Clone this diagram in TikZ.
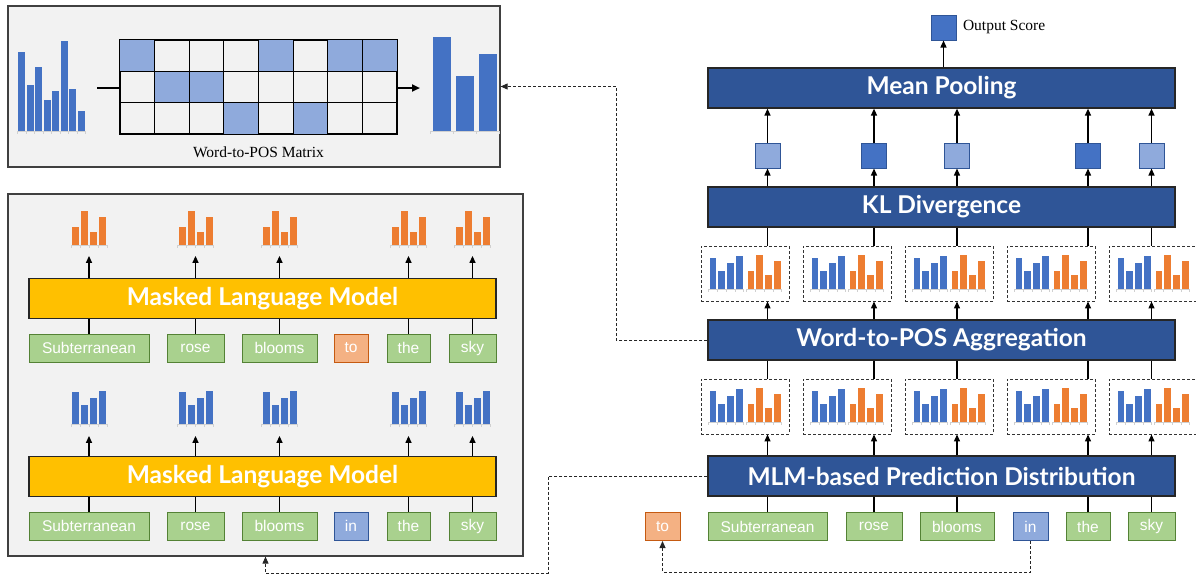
\documentclass[tikz,border=0pt]{standalone}
\usepackage{fontspec}
\setmainfont{Liberation Serif}
\newfontfamily\barfont{Lato}
\newfontfamily\wordfont{Liberation Sans}
\usetikzlibrary{arrows.meta,calc}

\definecolor{panelbg}{HTML}{F2F2F2}
\definecolor{panelbd}{HTML}{404040}
\definecolor{darkblue}{HTML}{2F5597}
\definecolor{midblue}{HTML}{4472C4}
\definecolor{lightblue}{HTML}{8FAADC}
\definecolor{gold}{HTML}{FFC000}
\definecolor{greenfill}{HTML}{A9D18E}
\definecolor{greenbd}{HTML}{548235}
\definecolor{orangefill}{HTML}{F4B183}
\definecolor{orangebd}{HTML}{C55A11}
\definecolor{historange}{HTML}{ED7D31}
\definecolor{tickgray}{HTML}{D0D0D0}

\newcommand{\histo}[6]{% xleft, baseline, color, pitch, barwidth, heights
  \foreach \hh [count=\ii] in {#6} {
    \fill[#3] ({#1+(\ii-1)*#4}, #2) rectangle ++(#5, -\hh);
    \draw[tickgray, line width=0.6pt] ({#1+(\ii-1)*#4-0.5*(#4-#5)}, #2) -- ++(#4,0);
    \draw[tickgray, line width=0.6pt] ({#1+(\ii-1)*#4-0.5*(#4-#5)}, #2) -- ++(0,3);
    \draw[tickgray, line width=0.6pt] ({#1+\ii*#4-0.5*(#4-#5)}, #2) -- ++(0,3);
  }%
}

\tikzset{
  panel/.style={draw=panelbd, fill=panelbg, line width=1.2pt, inner sep=0},
  bluebar/.style={draw=black!85, fill=darkblue, line width=1.2pt, minimum width=467pt,
    minimum height=40pt, text=white, font=\barfont\bfseries\fontsize{24.5}{28}\selectfont, inner sep=0},
  goldbar/.style={bluebar, fill=gold},
  word/.style={draw=greenbd, fill=greenfill, line width=1pt, minimum height=28pt, inner sep=0,
    text=white, font=\wordfont\fontsize{15.5}{18}\selectfont},
  wordorange/.style={word, draw=orangebd, fill=orangefill},
  wordblue/.style={word, draw=darkblue, fill=lightblue},
  conn/.style={line width=1.3pt},
  arr/.style={conn, -{Triangle[length=7pt,width=6pt]}},
  dashconn/.style={line width=0.9pt, dash pattern=on 3pt off 2pt, draw=black!85},
  dasharr/.style={dashconn, -{Triangle[length=7pt,width=6pt]}},
  distbox/.style={draw=black!80, line width=0.9pt, dash pattern=on 3pt off 2pt,
    minimum width=88pt, minimum height=55pt, inner sep=0},
  score/.style={minimum size=25pt, inner sep=0, line width=1pt, draw=darkblue},
  serif/.style={font=\fontsize{15.5}{18}\selectfont},
}

\begin{document}
\begin{tikzpicture}[x=1pt,y=-1pt]
\useasboundingbox (0,0) rectangle (1196,574);

% ---------------- Box 1: Word-to-POS matrix ----------------
\node[panel, minimum width=492pt, minimum height=161pt] (box1) at (254,86.5) {};
\histo{18.3}{131}{midblue}{8.5}{7}{79,46,64,31,40,90,42,20}
\histo{433}{131}{midblue}{23}{18}{94,55,77}
\node[draw=black, line width=1.2pt, minimum width=277pt, minimum height=94pt, inner sep=0] (mat) at (258.5,87) {};
\foreach \r/\c in {1/1,1/5,1/7,1/8,2/2,2/3,3/4,3/6}
  \fill[lightblue] ({120+(\c-1)*34.625}, {40+(\r-1)*31.333}) rectangle ++(34.625,31.333);
\foreach \c in {1,...,7}
  \draw[line width=1.1pt] ({120+\c*34.625},40) -- ++(0,94);
\foreach \r in {1,2}
  \draw[line width=1.1pt] (120,{40+\r*31.333}) -- ++(277,0);
\draw[line width=1.2pt] (mat.south west) rectangle (mat.north east);
\coordinate (ma) at (97,88);
\coordinate (mb) at (420,88);
\draw[line width=2pt] (ma) -- (mat.west |- ma);
\draw[line width=2pt, -{Triangle[length=8pt,width=7pt]}] (mat.east |- mb) -- (mb);
\node[serif] (matlbl) at (258.5,152) {Word-to-POS Matrix};

% ---------------- Box 2: MLM ----------------
\node[panel, minimum width=515pt, minimum height=362pt] (box2) at (265.5,375) {};

% upper MLM
\node[goldbar] (gy1) at (262.5,298.5) {Masked Language Model};
\node[word, minimum width=120pt] (a1) at (89,348) {Subterranean};
\node[word, minimum width=57pt] (a2) at (195.5,348) {rose};
\node[word, minimum width=75pt] (a3) at (279.5,348) {blooms};
\node[wordorange, minimum width=34pt] (a4) at (351,348) {to};
\node[word, minimum width=43pt] (a5) at (408.5,348) {the};
\node[word, minimum width=47pt] (a6) at (472.5,348) {sky};

% lower MLM
\node[goldbar] (gy2) at (262.5,476.5) {Masked Language Model};
\node[word, minimum width=120pt] (b1) at (89,526) {Subterranean};
\node[word, minimum width=57pt] (b2) at (195.5,526) {rose};
\node[word, minimum width=75pt] (b3) at (279.5,526) {blooms};
\node[wordblue, minimum width=34pt] (b4) at (351,526) {in};
\node[word, minimum width=43pt] (b5) at (408.5,526) {the};
\node[word, minimum width=47pt] (b6) at (472.5,526) {sky};

\foreach \w in {1,2,3,5,6} {
  \draw[conn] (a\w.north) -- (a\w.north |- gy1.south);
  \draw[conn] (b\w.north) -- (b\w.north |- gy2.south);
  \coordinate (oh\w) at ($(a\w.north |- gy1.north)+(0,-22)$);
  \coordinate (bh\w) at ($(b\w.north |- gy2.north)+(0,-20)$);
  \draw[arr] (a\w.north |- gy1.north) -- (oh\w);
  \draw[arr] (b\w.north |- gy2.north) -- (bh\w);
}
\foreach \x in {89,195.5,279.5,408.5,472.5} {
  \histo{\x-17}{245}{historange}{9}{7.2}{18,34,13.5,28}
  \histo{\x-17}{424}{midblue}{9}{7.2}{32,19,26,33}
}

% ---------------- Right pipeline ----------------
\node[bluebar] (mp)  at (941.5,88)  {Mean Pooling};
\node[bluebar] (kl)  at (941.5,207) {KL Divergence};
\node[bluebar] (agg) at (941.5,340) {Word-to-POS Aggregation};
\node[bluebar] (mlm) at (941.5,476) {MLM-based Prediction Distribution};

\node[wordorange, minimum width=35pt] (rTo) at (662.5,526.5) {to};
\node[word, minimum width=119pt] (r1) at (767.5,526.5) {Subterranean};
\node[word, minimum width=56pt] (r2) at (874,526.5) {rose};
\node[word, minimum width=74pt] (r3) at (957,526.5) {blooms};
\node[wordblue, minimum width=35pt] (rIn) at (1030.5,526.5) {in};
\node[word, minimum width=44pt] (r4) at (1088,526.5) {the};
\node[word, minimum width=47pt] (r5) at (1151.5,526.5) {sky};

% distribution boxes
\foreach \i/\L in {1/701,2/803,3/905,4/1007,5/1109} {
  \node[distbox] (d\i) at (\L+44,273.5) {};
  \node[distbox] (e\i) at (\L+44,406.5) {};
  \histo{\L+8.7}{289}{midblue}{8.7}{6.7}{31,18,26,33}
  \histo{\L+46.7}{289}{historange}{8.7}{6.7}{18,34,14,28}
  \histo{\L+8.7}{422}{midblue}{8.7}{6.7}{31,18,26,33}
  \histo{\L+46.7}{422}{historange}{8.7}{6.7}{18,34,14,28}
}

% score squares
\node[score, fill=lightblue] (s1) at (767.5,155.5) {};
\node[score, fill=midblue]   (s2) at (874,155.5) {};
\node[score, fill=lightblue] (s3) at (957,155.5) {};
\node[score, fill=midblue]   (s4) at (1088,155.5) {};
\node[score, fill=lightblue] (s5) at (1151.5,155.5) {};
\node[score, fill=midblue] (out) at (943.5,27.5) {};
\node[serif, anchor=west] (outlbl) at ($(out.east)+(3,0)$) {Output Score};
\draw[arr] (mp.north -| out) -- (out.south);

\foreach \i in {1,...,5} {
  \draw[conn] (r\i.north) -- (mlm.south -| r\i);
  \draw[arr] (mlm.north -| r\i) -- (e\i.south -| r\i);
  \draw[conn] (agg.south -| r\i) -- (e\i.north -| r\i);
  \draw[arr] (agg.north -| r\i) -- (d\i.south -| r\i);
  \draw[conn] (kl.south -| r\i) -- (d\i.north -| r\i);
  \draw[arr] (kl.north -| s\i) -- (s\i.south);
  \draw[arr] (s\i.north) -- (mp.south -| s\i);
}

% dashed connectors
\coordinate (k1) at (548,573);
\draw[dasharr] (agg.west) -- ++(-91,0) |- (box1.east);
\draw[dasharr] (mlm.west) -| (k1) -| (box2.south);
\draw[dasharr] (rIn.south) -- ++(0,31) -| (rTo.south);
\end{tikzpicture}
\end{document}
